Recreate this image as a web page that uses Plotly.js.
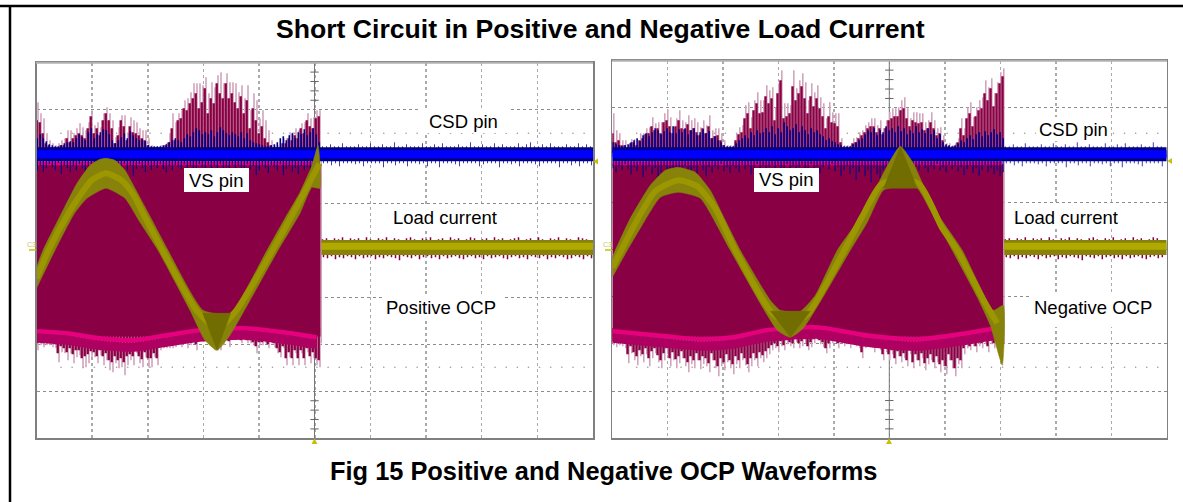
<!DOCTYPE html>
<html><head><meta charset="utf-8">
<script src="https://cdn.plot.ly/plotly-3.0.1.min.js"></script>
<style>html,body{margin:0;padding:0;background:#fff}#c{width:1183px;height:502px}</style>
</head><body><div id="c"></div>
<script>
// ---- values: x = sweep sample, y = signal level ----
const titleText = "Short Circuit in Positive and Negative Load Current";
const captionText = "Fig 15 Positive and Negative OCP Waveforms";

// LEFT: positive OCP
const leftTopPale = [336,325,320,305,298,295,293,295,298,300,308,308,305,310,315,311,308,316,328,313,316,311,325,331,325,318,301,311,323,323,305,321,318,316,310,308,308,300,293,291,291,293,293,295,305,325,316,325,328,338,340,346,355,355,355,353,361,345,356,351,363,366,355,365,356,356,355,346,353,340,353,328,345,338,320,328,318,308,298,293,293,295,300,300,306,306,310,308,315,316,325,320,321,328,328];
const leftTopDark = [318,316,305,295,293,291,291,291,293,293,300,296,300,303,305,303,300,310,322,305,310,303,318,325,318,310,295,303,318,312,298,312,306,305,303,300,298,293,291,291,291,291,291,293,296,310,298,318,320,330,328,335,340,345,330,336,350,325,340,335,355,345,340,355,340,345,336,330,342,325,338,310,330,318,305,312,300,296,293,291,291,291,295,295,300,298,303,300,310,305,318,312,310,320,322];
const leftBlueTop = [300,304,300,297,294,293,292,292,293,295,296,297,296,300,304,301,298,306,310,300,304,306,309,308,304,298,295,298,301,305,300,307,303,300,298,299,297,293,292,292,292,292,293,294,296,298,300,298,296,300,304,302,306,310,308,304,306,304,308,302,306,311,308,305,303,306,304,302,306,300,305,298,296,295,294,293,292,292,293,294,296,300,302,298,303,305,300,306,304,309,303,306,310,304,296];
const leftBlueLow = [268,272,266,270,274,271,268,275,264,272,270,266,272,268,274,270,265,272,268,274,263,271,269,266,273,270,268,262,271,274,268,272,262,269,274,270,266,273,268,272,270,274,269,266,272,268,273,271,269,274,266,272,270,268,274,271,267,273,270,272,268,274,266,271,269,273,268,272,270,266,274,269,272,263,268,272,270,265,273,271,268,274,263,269,272,266,270,264,272,268,271,266,262,270,274];
const leftLowPale = [88,93,91,93,93,91,90,76,86,85,78,85,75,81,83,70,71,75,81,81,75,83,73,78,68,66,75,70,71,63,73,78,73,85,75,71,81,71,71,81,73,88,90,90,90,90,91,95,91,95,90,93,100,88,100,98,98,98,93,88,88,88,93,100,91,100,98,100,95,100,95,95,93,85,93,93,95,90,95,91,85,81,90,73,81,73,85,73,85,73,86,75,80,73,71];
const leftLowDark = [95,97,95,96,96,95,94,85,92,90,86,90,84,88,88,80,82,84,87,86,82,88,82,85,78,76,82,78,80,76,82,84,82,88,82,79,86,80,80,85,80,92,94,94,94,94,95,98,95,98,96,97,102,94,102,100,100,100,98,94,92,92,96,102,97,102,100,102,98,102,98,98,96,92,96,96,98,94,98,95,90,86,92,80,86,80,88,80,88,80,90,82,86,80,78];
const leftPinkX = [0,30,63.5,97,130,163,207,247,280];
const leftPinkY = [107,105,100,98,103,108,110,106,101];
const leftPinkLowY = [100,98,93,91,96,101,103,99,94];
const leftLoadUpX = [0,6.5,25,40.5,53.5,63.5,69.5,78.5,88.5,98.5,113.5,131.5,166.5,193.5,230.5,248.5,263.5,275.5,281.5];
const leftLoadUpY = [171,188,225,255,273,279,280,278,268,250,222,188,128,125,188,220,246,273,293];
const leftLoadLoX = [0,18.5,38,50.5,69.5,88.5,103.5,121.5,153.5,168.5,180.5,193.5,213.5,241.5,263.5,275.5,283.5];
const leftLoadLoY = [150,188,225,240,250,240,216,188,128,98,88,103,138,188,225,251,250];
const leftCoreX = [0,12,32,45,55,69.5,85,96,108,126,160,180.5,200,236,255,270,283];
const leftCoreY = [160,188,225,245,258,265,258,245,222,188,128,110,128,188,222,250,275];
const leftDarkX = [166,194,180.5];
const leftDarkY = [125,125,88];

// RIGHT: negative OCP
const rightTopPale = [325,308,305,298,298,293,299,299,298,305,305,310,311,321,315,316,316,325,329,321,311,320,328,318,316,323,318,320,316,311,318,313,323,308,310,310,305,298,293,293,293,305,311,313,333,336,321,338,346,338,338,353,348,351,331,355,368,335,335,333,368,350,358,365,356,338,355,346,353,341,335,320,336,326,325,325,300,293,293,293,300,301,306,308,313,316,320,320,313,318,310,318,326,330,330,331,338,341,330,320,326,326,325,325,316,318,326,318,310,311,303,295,295,293,295,300,320,310,331,336,321,331,338,341,358,351,360,345,356,366,370];
const rightTopDark = [305,296,298,293,293,291,295,296,293,298,300,304,305,312,308,310,305,316,318,312,305,312,318,310,309,314,308,310,306,303,310,305,312,300,302,303,298,293,291,291,291,298,304,306,320,325,310,328,335,325,326,342,335,340,318,345,358,320,322,325,352,338,345,352,340,325,342,332,340,330,322,310,322,316,315,312,296,291,291,291,295,296,300,303,306,310,312,312,306,310,304,310,318,320,322,322,328,330,320,312,318,316,315,316,308,310,316,310,303,305,298,292,292,291,292,296,310,303,320,325,312,322,328,330,345,338,350,332,345,355,362];
const rightBlueTop = [296,294,293,292,293,294,296,298,300,297,303,305,302,306,310,308,304,307,310,306,312,305,309,306,310,304,308,310,303,306,309,305,307,300,302,298,296,293,292,292,292,295,298,300,303,300,306,303,308,305,306,310,306,312,304,310,306,316,312,308,310,314,306,312,308,304,310,306,308,304,302,298,300,297,296,294,293,292,292,292,294,296,298,300,304,308,306,310,303,308,306,312,308,310,306,312,307,310,304,308,305,312,306,309,305,310,304,308,300,304,296,294,293,292,293,295,298,296,300,303,299,304,306,302,307,303,306,309,304,306,300];
const rightBlueLow = [270,266,272,268,274,269,264,271,267,273,261,268,272,264,270,258,266,272,263,269,260,271,266,262,272,268,258,270,265,273,268,262,271,266,272,269,274,267,271,265,272,270,266,273,269,272,264,270,274,268,272,266,271,273,268,272,265,270,274,269,272,267,271,273,266,270,274,268,272,265,271,273,269,274,267,271,262,268,272,264,270,258,266,272,262,268,256,270,264,260,268,254,266,270,262,272,258,268,264,270,266,272,268,273,270,266,272,269,274,268,271,266,273,269,272,267,271,263,269,272,265,270,262,268,273,266,270,264,268,262,266];
const rightLowPale = [93,91,93,92,90,75,85,78,73,82,76,84,72,80,85,76,70,78,84,72,78,70,75,80,72,66,74,70,78,69,74,72,66,78,70,62,72,68,76,70,64,74,70,78,73,66,72,78,72,80,76,80,84,88,90,86,92,88,94,92,90,96,90,92,95,88,91,95,98,94,91,85,90,95,98,90,96,92,94,90,96,92,90,80,90,92,94,86,94,88,78,86,78,84,74,82,76,80,72,84,70,78,72,80,68,74,78,70,76,66,72,64,78,70,62,74,70,84,90,88,92,86,92,90,94,86,94,90,96,92];
const rightLowDark = [97,96,97,96,95,84,92,86,82,88,84,90,80,87,90,83,78,85,90,80,86,79,82,87,80,76,82,78,85,78,82,80,75,85,78,72,80,76,84,78,74,82,78,85,80,74,80,85,80,86,83,87,90,93,95,92,97,93,98,96,95,100,95,97,99,92,96,99,102,98,96,90,95,99,102,95,100,96,98,95,100,96,95,86,95,97,98,91,98,92,84,90,84,88,80,87,82,85,78,88,76,84,78,85,75,80,84,76,82,74,78,72,84,78,70,80,78,90,94,92,96,92,97,95,98,92,98,95,100,97];
const rightPinkX = [0,54,88,121,154,204,254,304,354,384];
const rightPinkY = [107,102,99,101,108,111,103,99,105,110];
const rightPinkLowY = [100,95,92,94,101,104,96,92,98,103];
const rightLoadUpX = [0,3,18,38,53,66,83,98,113,128,158,168,188,203,225,255,271,288,301,321,350,381,391];
const rightLoadUpY = [181,188,220,253,268,271,266,248,218,188,138,128,127,143,188,231,265,292,275,231,188,128,133];
const rightLoadLoX = [0,15,28,48,66,88,118,165,178,191,238,255,271,288,305,318,340,365,378,390];
const rightLoadLoY = [161,188,210,241,246,240,188,108,101,110,188,216,248,252,250,228,188,141,113,73];
const rightCoreX = [0,9,23,43,66,85,103,123,160,178,196,232,250,270,306,330,345,373,385];
const rightCoreY = [171,188,215,247,258,252,230,188,125,115,125,188,222,255,255,210,188,135,115];
const rightDark1X = [158,198,178];
const rightDark1Y = [127,127,101];
const rightDark2X = [271,305,288];
const rightDark2Y = [250,250,292];

// after the trip: flat traces with small noise
const postBlueTop = [292,292,294,292,292,295,292,292,292,294,292,292,295,292,292,294,292,292,296,292,292,294,292,292,292,295,292,292,294,292,295,292,292,292,294,292,292,296,292,292,294,292,292,295,292,294,292,292,292,295,292,294,296,292,292,294,292,295,292,292,292,294,292,292,295,292,294,292];
const postBlueLow = [275,275,273,275,272,275,275,275,274,275,272,275,275,275,275,271,275,275,273,275,275,272,275,275,274,275,272,275,275,271,275,275,275,274,272,275,275,275,275,272,274,275,275,275,271,275,275,274,275,272,275,275,275,274,272,275,275,275,275,271,275,275,273,275,272,275,275,273];
const postLoadTop = [199,200,198,200,199,201,198,200,199,200,198,201,199,198,200,199,201,198,200,199,198,200,201,199,198,200,199,201,198,199,200,198,201,199,200,198,199,201,200,198,199,200,198,201,199,200,198,199,200,201,198,199,200,198,201,199,198,200,199,201,198,200,199,198,201,200,199,198];
const postLoadLow = [181,180,182,179,181,180,182,181,179,182,180,181,182,179,181,180,182,181,180,178,182,181,180,182,179,181,182,180,181,179,182,180,181,182,180,179,181,182,180,181,179,182,180,181,182,180,179,181,182,180,181,179,182,181,180,182,179,181,180,182,181,179,180,182,181,179,182,180];

const labelsLeft = ["CSD pin","VS pin","Load current","Positive OCP"];
const labelsRight = ["CSD pin","VS pin","Load current","Negative OCP"];

// ---- styling ----
const CRIM='#8a0045', PALE='#d2a4bd', PINK='#e6007e', MIDP='#ad0060', BLUE='#0000ff', NAVY='#00008a',
      OLV='#86820a', OLVL='#9c9700', OLVD='#716d00', YEL='#c8c000';
const W=1183,H=502;

function spikes(vals,base,start,step,color,width,xa,ya){
  const x=[],y=[];
  vals.forEach((v,i)=>{const t=start+i*step;x.push(t,t,null);y.push(base,v,null);});
  return {type:'scatter',mode:'lines',x,y,xaxis:xa,yaxis:ya,hoverinfo:'skip',showlegend:false,line:{color,width}};
}
function line(x,y,color,width,xa,ya){
  return {type:'scatter',mode:'lines',x,y,xaxis:xa,yaxis:ya,hoverinfo:'skip',showlegend:false,line:{color,width,shape:'spline',smoothing:0.6}};
}
function poly(x,y,color,xa,ya,smooth){
  return {type:'scatter',mode:'lines',x,y,xaxis:xa,yaxis:ya,fill:'toself',fillcolor:color,hoverinfo:'skip',showlegend:false,
    line:smooth?{color,width:0.5,shape:'spline',smoothing:0.5}:{color,width:0.5}};
}
function rows(xEnd,dx,levels,xa,ya){
  const x=[],y=[];
  levels.forEach(l=>{for(let t=dx*2.2;t<xEnd;t+=dx){x.push(t);y.push(l);}});
  return {type:'scatter',mode:'markers',x,y,xaxis:xa,yaxis:ya,hoverinfo:'skip',showlegend:false,marker:{size:1.6,color:'#999'}};
}
function centerTicks(cx,divY,yMax,xa,ya){
  const x=[],y=[];
  for(let l=divY*0.2;l<divY;l+=divY/5){x.push(cx);y.push(l);}
  for(let l=yMax-divY+divY/5;l<yMax;l+=divY/5){x.push(cx);y.push(l);}
  return {type:'scatter',mode:'markers',x,y,xaxis:xa,yaxis:ya,hoverinfo:'skip',showlegend:false,
    marker:{symbol:'line-ew',size:6,line:{color:'#666',width:1}}};
}
function panel(o){
  const {xa,ya,trip,end,step}=o, T=[];
  T.push(rows(end,o.divX/5,[o.dots1,o.dots2],xa,ya));
  T.push({type:'scatter',mode:'lines',x:[o.cx,o.cx],y:[0,o.yMax],xaxis:xa,yaxis:ya,hoverinfo:'skip',showlegend:false,line:{color:'#777',width:1}});
  T.push(centerTicks(o.cx,o.divY,o.yMax,xa,ya));
  T.push(spikes(o.topPale,285,1.5,step,PALE,1.6,xa,ya));
  T.push(spikes(o.lowPale,110,1.5,step,PALE,1.6,xa,ya));
  T.push(spikes(o.topDark,285,0.2,step,CRIM,2.4,xa,ya));
  T.push(spikes(o.lowDark,110,0.2,step,CRIM,2.4,xa,ya));
  T.push(poly([0,trip,trip,0],[274,274,102,102],CRIM,xa,ya));
  T.push(line(o.pinkX,o.pinkLow,MIDP,9,xa,ya));
  T.push(line(o.pinkX,o.pink,PINK,4.5,xa,ya));
  T.push({...line([0,trip-1],[275,275],PINK,4,xa,ya)});
  T.push({type:'scatter',mode:'lines',x:[trip+0.8,trip+0.8],y:[95,280],xaxis:xa,yaxis:ya,hoverinfo:'skip',showlegend:false,line:{color:PALE,width:1.4}});
  T.push(spikes(o.blueLow,280,0.8,step,NAVY,1.1,xa,ya));
  T.push(spikes(o.blueTop,285,0.8,step,NAVY,1.6,xa,ya));
  T.push(spikes(postBlueTop.slice(0,Math.floor((end-trip)/4)),285,trip+2,4,'#2a2aa0',0.9,xa,ya));
  T.push(spikes(postBlueLow.slice(0,Math.floor((end-trip)/4)),280,trip+3,4,'#2a2aa0',0.9,xa,ya));
  T.push(line([0,end],[284,284],NAVY,14,xa,ya));
  T.push(line([0,end],[284,284],BLUE,8,xa,ya));
  // load current band
  T.push(poly(o.upX.concat(o.loX.slice().reverse()),o.upY.concat(o.loY.slice().reverse()),OLV,xa,ya,true));
  T.push(line(o.coreX,o.coreY,OLVL,6,xa,ya));
  o.darks.forEach(d=>T.push(poly(d[0],d[1],OLVD,xa,ya)));
  // after the trip
  T.push(spikes(postLoadTop.slice(0,Math.floor((end-trip)/4)),195,trip+2,4,CRIM,1.5,xa,ya));
  T.push(spikes(postLoadLow.slice(0,Math.floor((end-trip)/4)),185,trip+3,4,CRIM,1.5,xa,ya));
  T.push(line([trip+1,end],[190.8,190.8],OLV,15,xa,ya));
  T.push(line([trip+1,end],[192,192],'#b0aa00',7,xa,ya));
  return T;
}

const traces=[
 ...panel({xa:'x',ya:'y',trip:284,end:556.5,step:3,cx:278,divX:55.65,divY:46.95,yMax:375.6,dots1:305,dots2:71,
   topPale:leftTopPale,topDark:leftTopDark,lowPale:leftLowPale,lowDark:leftLowDark,blueTop:leftBlueTop,blueLow:leftBlueLow,
   pinkX:leftPinkX,pink:leftPinkY,pinkLow:leftPinkLowY,upX:leftLoadUpX,upY:leftLoadUpY,loX:leftLoadLoX,loY:leftLoadLoY,
   coreX:leftCoreX,coreY:leftCoreY,darks:[[leftDarkX,leftDarkY]]}),
 ...panel({xa:'x2',ya:'y2',trip:391,end:554.4,step:3,cx:277,divX:55.44,divY:47.2,yMax:377.6,dots1:305,dots2:71,
   topPale:rightTopPale,topDark:rightTopDark,lowPale:rightLowPale,lowDark:rightLowDark,blueTop:rightBlueTop,blueLow:rightBlueLow,
   pinkX:rightPinkX,pink:rightPinkY,pinkLow:rightPinkLowY,upX:rightLoadUpX,upY:rightLoadUpY,loX:rightLoadLoX,loY:rightLoadLoY,
   coreX:rightCoreX,coreY:rightCoreY,darks:[[rightDark1X,rightDark1Y],[rightDark2X,rightDark2Y]]})
];

function axis(dom,range,dtick,anchor,vert){
  return {domain:dom,range,dtick,tick0:0,anchor,fixedrange:true,showticklabels:false,ticks:'',zeroline:false,
    showgrid:true,gridcolor:vert?'#ababab':'#8c8c8c',griddash:'dot',gridwidth:vert?1.5:1,showline:true,mirror:true,linecolor:'#808080',linewidth:1.5};
}
const px=v=>v/W, py=v=>1-v/H;
function box(x0,y0,x1,y1){return {type:'rect',xref:'paper',yref:'paper',x0:px(x0),x1:px(x1),y0:py(y0),y1:py(y1),fillcolor:'#fff',line:{width:0},layer:'above'};}
function ln(x0,y0,x1,y1,c,w){return {type:'line',xref:'paper',yref:'paper',x0:px(x0),x1:px(x1),y0:py(y0),y1:py(y1),line:{color:c,width:w},layer:'above'};}
function tri(a,b,c){return {type:'path',xref:'paper',yref:'paper',path:`M ${px(a[0])} ${py(a[1])} L ${px(b[0])} ${py(b[1])} L ${px(c[0])} ${py(c[1])} Z`,fillcolor:YEL,line:{width:0},layer:'above'};}
function txt(t,x,y,size,bold,color){return {text:bold?'<b>'+t+'</b>':t,xref:'paper',yref:'paper',x:px(x),y:py(y),xanchor:'center',yanchor:'middle',showarrow:false,
   font:{family:'Liberation Sans, Arial, sans-serif',size,color:color||'#000'}};}

const layout={
  width:W,height:H,margin:{l:0,r:0,t:0,b:0},paper_bgcolor:'#fff',plot_bgcolor:'#fff',showlegend:false,
  xaxis:axis([36.5/W,593/W],[0,556.5],55.65,'y',true),
  yaxis:axis([1-438.3/H,1-62.7/H],[0,375.6],46.95,'x',false),
  xaxis2:axis([612.3/W,1166.7/W],[0,554.4],55.44,'y2',true),
  yaxis2:axis([1-438.3/H,1-60.7/H],[0,377.6],47.2,'x2',false),
  shapes:[
    ln(0,6,W,6,'#000',2.5), ln(10,5,10,H,'#000',2.5),
    ln(36,62.7,593,62.7,'#b0b0b0',2), ln(612,60.7,1167,60.7,'#b0b0b0',2),
    box(184,168,249,192), box(420,109,510,133), box(384,205,505,228), box(384,297,505,318),
    box(754,168,819,192), box(1036,117,1108,141), box(1009,205,1124,228), box(1032,295,1167,327),
    tri([311.5,444],[317.5,444],[314.5,438.5]), tri([886,444],[892,444],[889,438.5]),
    tri([593.5,161.5],[598,158.5],[598,164.5]), tri([1167.5,161],[1172,158],[1172,164]),
    ln(29,250,36,250,YEL,1.5), ln(605,250,612,250,YEL,1.5)
  ],
  annotations:[
    txt(titleText,600,29,26.6,true), txt(captionText,604,471,25.4,true),
    txt(labelsLeft[0],463,121,18.5), txt(labelsLeft[1],216,180,18.5), txt(labelsLeft[2],445,217,18.5), txt(labelsLeft[3],441,307,18.5),
    txt(labelsRight[0],1073,129,18.5), txt(labelsRight[1],786,179,18.5), txt(labelsRight[2],1066,217,18.5), txt(labelsRight[3],1093,307,18.5),
    txt('C3',31,244,7,false,'#c8c860'), txt('C3',607,244,7,false,'#c8c860')
  ]
};
Plotly.newPlot('c',traces,layout,{staticPlot:true,displayModeBar:false});
</script></body></html>
